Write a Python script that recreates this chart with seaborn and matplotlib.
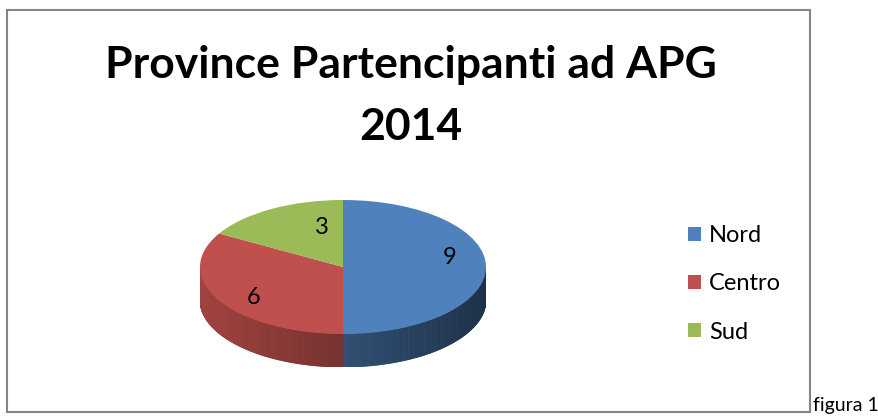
import numpy as np
import matplotlib
matplotlib.use("Agg")
import matplotlib.pyplot as plt
import seaborn as sns
from matplotlib.patches import Patch, Rectangle
from matplotlib.collections import PolyCollection
from matplotlib.colors import to_rgb

# ---------------------------------------------------------------------
# data
# ---------------------------------------------------------------------
regions = ["Nord", "Centro", "Sud"]
counts = [9, 6, 3]
colors = ["#4F81BD", "#C0504D", "#9BBB59"]
title_lines = ["Province Partencipanti ad APG", "2014"]
caption = "figura 1"

sns.set_theme(style="white")
plt.rcParams["font.family"] = ["Lato", "DejaVu Sans"]
plt.rcParams["text.color"] = "black"

W, H = 879, 420
fig = plt.figure(figsize=(W / 100, H / 100), dpi=100)
fig.patch.set_facecolor("white")


def px(x0, y0, x1, y1):
    # pixel box (top-left origin) -> figure fraction
    return [x0 / W, 1 - y1 / H, (x1 - x0) / W, (y1 - y0) / H]


# ---------------------------------------------------------------------
# pie top face (squashed) + side wall for 3D look
# ---------------------------------------------------------------------
DEPTH = 0.4925
ax = fig.add_axes(px(200, 200, 486, 367))
wedges, texts, autotexts = ax.pie(
    counts,
    colors=sns.color_palette(colors),
    startangle=90,
    counterclock=False,
    autopct=lambda p: f"{p * sum(counts) / 100:.0f}",
    pctdistance=0.74,
    wedgeprops=dict(linewidth=0),
    textprops=dict(fontsize=17, color="black"),
)
ax.set_aspect("auto")
ax.set_xlim(-1, 1)
ax.set_ylim(-1 - DEPTH, 1)
ax.axis("off")

# label placement as in the 3D perspective (angle shift, radius)
label_adjust = [(11, 0.76), (6, 0.77), (-16, 0.60)]
for w, t, (da, r) in zip(wedges, autotexts, label_adjust):
    a = np.radians(0.5 * (w.theta1 + w.theta2) + da)
    t.set_position((r * np.cos(a), r * np.sin(a)))
    t.set_zorder(3)

polys, fcs = [], []
for w, c in zip(wedges, colors):
    base = np.array(to_rgb(c))
    ts = np.radians(np.linspace(w.theta1, w.theta2, 240))
    for t1, t2 in zip(ts[:-1], ts[1:]):
        tm = 0.5 * (t1 + t2)
        if np.sin(tm) > 0:
            continue
        x1, y1 = np.cos(t1), np.sin(t1)
        x2, y2 = np.cos(t2), np.sin(t2)
        polys.append([(x1, y1), (x2, y2), (x2, y2 - DEPTH), (x1, y1 - DEPTH)])
        f = 0.61 - 0.23 * np.cos(tm)
        fcs.append(tuple(np.clip(base * f, 0, 1)))
side = PolyCollection(polys, facecolors=fcs, edgecolors=fcs, linewidths=0.6, zorder=0)
ax.add_collection(side)
for w in wedges:
    w.set_zorder(1)

# ---------------------------------------------------------------------
# title, legend, frame, caption
# ---------------------------------------------------------------------
fig.text(411 / W, 1 - 78 / H, title_lines[0], ha="center", va="baseline",
         fontsize=32, fontweight="bold", color="black")
fig.text(411 / W, 1 - 140 / H, title_lines[1], ha="center", va="baseline",
         fontsize=32, fontweight="bold", color="black")

handles = [Patch(facecolor=c, edgecolor="none", label=r) for r, c in zip(regions, colors)]
fig.legend(handles=handles, loc="center left", bbox_to_anchor=(688 / W, 1 - 284 / H),
           frameon=False, fontsize=17, handlelength=0.55, handleheight=0.55,
           handletextpad=0.35, labelspacing=1.15, borderpad=0, borderaxespad=0)

fig.add_artist(Rectangle((7 / W, 1 - 412 / H), (810 - 7) / W, (412 - 10) / H,
                         transform=fig.transFigure, fill=False,
                         edgecolor="#868686", linewidth=1.5))
fig.text(813 / W, 1 - 411 / H, caption, fontsize=14, va="baseline", color="black")

fig.savefig("out.png", dpi=100)
plt.close(fig)
